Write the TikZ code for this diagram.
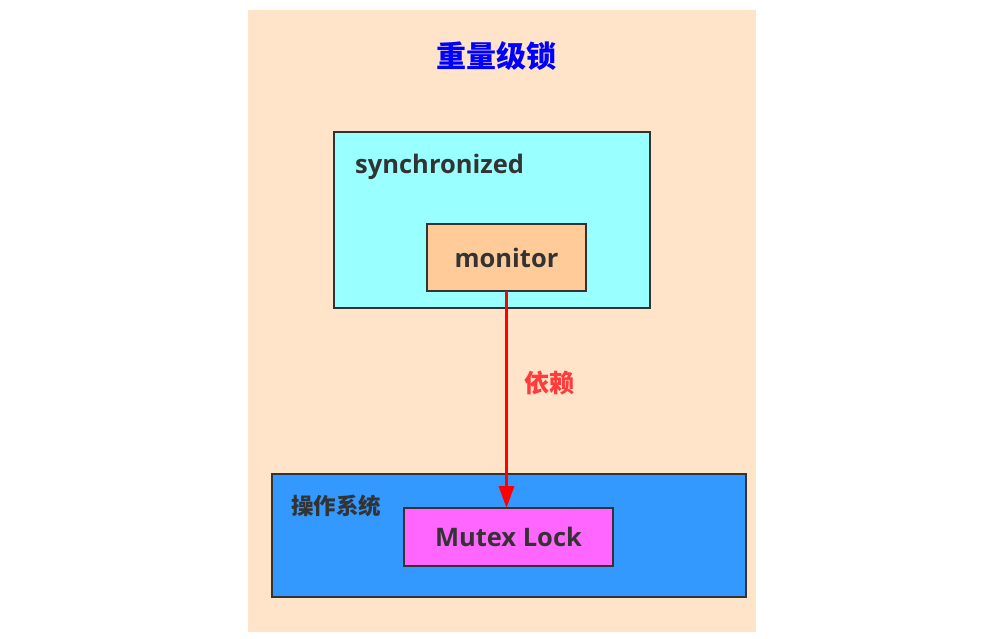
\documentclass[tikz,border=0pt]{standalone}
\usepackage{fontspec}
\setmainfont{Open Sans}
\newfontfamily\cjk{Noto Sans CJK SC}
\usetikzlibrary{arrows.meta}
\definecolor{peach}{HTML}{FFE4C9}
\definecolor{cyanfill}{HTML}{99FFFF}
\definecolor{orangefill}{HTML}{FFCC99}
\definecolor{bluefill}{HTML}{3399FF}
\definecolor{pinkfill}{HTML}{FF66FF}
\definecolor{edge}{HTML}{333333}
\definecolor{titleblue}{HTML}{0000FF}
\definecolor{labelred}{HTML}{FF3B3B}
\begin{document}
\begin{tikzpicture}[x=1pt,y=-1pt,
  box/.style={draw=edge, line width=2.6pt, inner sep=0pt, outer sep=0pt, anchor=north west},
  boxtext/.style={text=edge, font=\bfseries\fontsize{25.5}{30}\selectfont},
  dep/.style={draw=red, line width=3.4pt, -{Triangle[length=22pt,width=15pt]}}]
\useasboundingbox (0,0) rectangle (1004,638);
\fill[white] (0,0) rectangle (1004,638);
\fill[peach] (248,10) rectangle (756,632);
\node[text=titleblue, font=\cjk\bfseries\fontsize{30}{34}\selectfont] (title) at (496,56) {重量级锁};
\node[box, fill=cyanfill, minimum width=316pt, minimum height=176pt] (sync) at (334,132) {};
\node[boxtext, anchor=west, inner sep=0pt] (synclabel) at (355,167) {synchronized};
\node[box, fill=orangefill, minimum width=159pt, minimum height=67pt, boxtext] (monitor) at (427,224) {monitor};
\node[box, fill=bluefill, minimum width=474pt, minimum height=123pt] (os) at (272,474) {};
\node[text=edge, font=\cjk\bfseries\fontsize{22.5}{26}\selectfont, anchor=west, inner sep=0pt] (oslabel) at (291,506) {操作系统};
\node[box, fill=pinkfill, minimum width=209pt, minimum height=58pt, boxtext] (mutex) at (404,508) {Mutex Lock};
\draw[dep] (monitor.south) -- (monitor.south |- mutex.north);
\node[text=labelred, font=\cjk\bfseries\fontsize{25}{30}\selectfont] (deplabel) at (549,383) {依赖};
\end{tikzpicture}
\end{document}
